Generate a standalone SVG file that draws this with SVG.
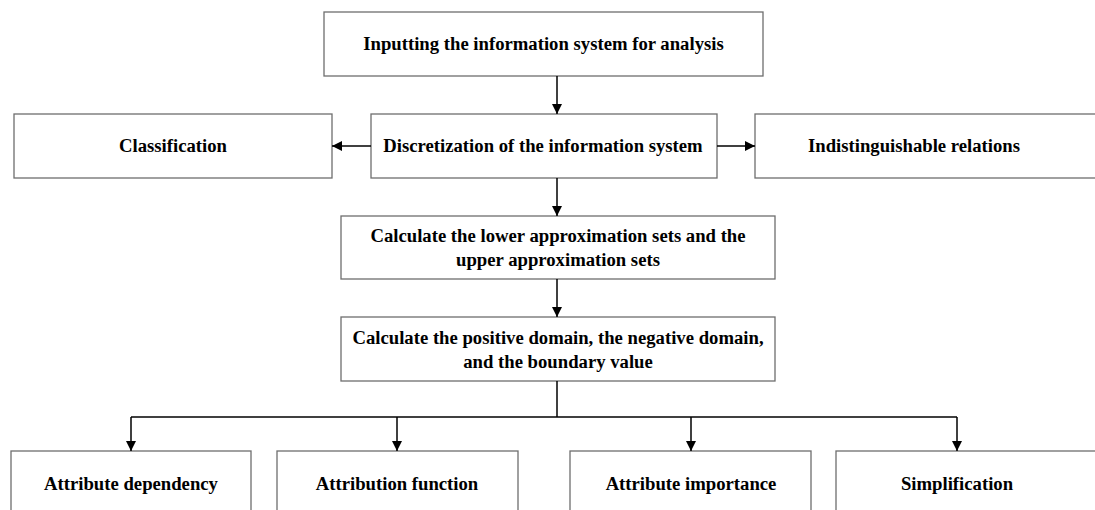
<svg xmlns="http://www.w3.org/2000/svg" width="1095" height="510" viewBox="0 0 1095 510">
<defs>
<style>
.box{fill:#fff;stroke:#6e6e6e;stroke-width:1.3}
.t{font-family:"Liberation Serif","Times New Roman",serif;font-weight:bold;font-size:18.7px;fill:#000;text-anchor:middle}
.c{fill:none;stroke:#000;stroke-width:1.5}
</style>
<marker id="ah" markerUnits="userSpaceOnUse" markerWidth="11" markerHeight="11" refX="10" refY="5" orient="auto">
<path d="M0,0 L10,5 L0,10 z" fill="#000"/>
</marker>
</defs>
<rect width="1095" height="510" fill="#fff"/>
<g id="n-input"><rect class="box" x="324" y="12" width="439" height="64"/><text class="t" x="543.5" y="50">Inputting the information system for analysis</text></g>
<g id="n-class"><rect class="box" x="14" y="114" width="318" height="64"/><text class="t" x="173" y="152">Classification</text></g>
<g id="n-disc"><rect class="box" x="371" y="114" width="346" height="64"/><text class="t" x="543" y="152">Discretization of the information system</text></g>
<g id="n-indist"><rect class="box" x="755" y="114" width="350" height="64"/><text class="t" x="914" y="152">Indistinguishable relations</text></g>
<g id="n-approx"><rect class="box" x="341" y="216" width="434" height="63"/><text class="t" x="558" y="242">Calculate the lower approximation sets and the</text><text class="t" x="558" y="266">upper approximation sets</text></g>
<g id="n-domain"><rect class="box" x="341" y="317" width="434" height="64"/><text class="t" x="558" y="344">Calculate the positive domain, the negative domain,</text><text class="t" x="558" y="368">and the boundary value</text></g>
<g id="n-dep"><rect class="box" x="11" y="451" width="240" height="70"/><text class="t" x="131" y="490">Attribute dependency</text></g>
<g id="n-func"><rect class="box" x="277" y="451" width="241" height="70"/><text class="t" x="397" y="490">Attribution function</text></g>
<g id="n-imp"><rect class="box" x="570" y="451" width="241" height="70"/><text class="t" x="691" y="490">Attribute importance</text></g>
<g id="n-simp"><rect class="box" x="836" y="451" width="270" height="70"/><text class="t" x="957" y="490">Simplification</text></g>
<g id="connectors">
<line class="c" x1="557" y1="76" x2="557" y2="114" marker-end="url(#ah)"/>
<line class="c" x1="371" y1="146" x2="332" y2="146" marker-end="url(#ah)"/>
<line class="c" x1="717" y1="146" x2="755" y2="146" marker-end="url(#ah)"/>
<line class="c" x1="557" y1="178" x2="557" y2="216" marker-end="url(#ah)"/>
<line class="c" x1="557" y1="279" x2="557" y2="317" marker-end="url(#ah)"/>
<line class="c" x1="557" y1="381" x2="557" y2="417"/>
<line class="c" x1="131" y1="417" x2="957" y2="417"/>
<line class="c" x1="131" y1="417" x2="131" y2="451" marker-end="url(#ah)"/>
<line class="c" x1="397" y1="417" x2="397" y2="451" marker-end="url(#ah)"/>
<line class="c" x1="691" y1="417" x2="691" y2="451" marker-end="url(#ah)"/>
<line class="c" x1="957" y1="417" x2="957" y2="451" marker-end="url(#ah)"/>
</g>
</svg>
